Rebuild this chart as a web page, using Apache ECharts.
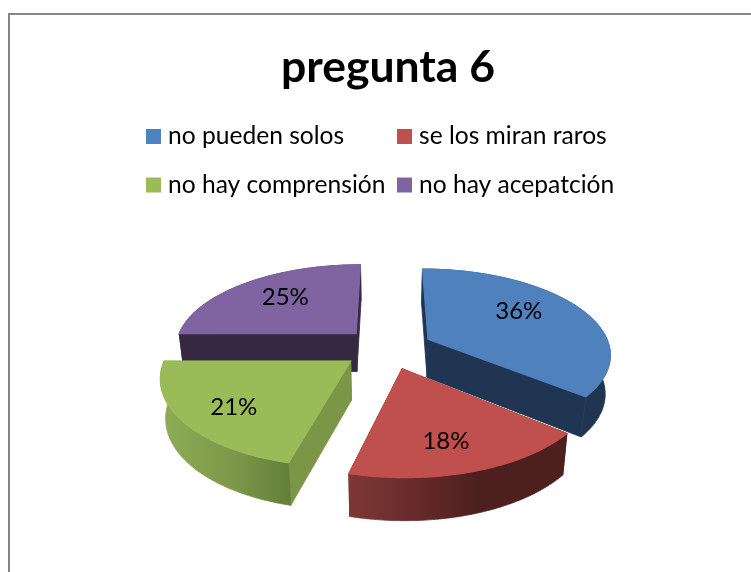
<!DOCTYPE html>
<html>
<head>
<meta charset="utf-8">
<style>html,body{margin:0;padding:0;background:#fff}#c{width:751px;height:572px}</style>
<script src="https://cdn.jsdelivr.net/npm/echarts@6/dist/echarts.min.js"></script>
</head>
<body>
<div id="c"></div>
<script>
const titleText = 'pregunta 6';
const categories = ['no pueden solos', 'se los miran raros', 'no hay comprensión', 'no hay acepatción'];
const values = [36, 18, 21, 25];

const topColors = ['#4F81BD', '#C0504D', '#9BBB59', '#8064A2'];
const cutColors = ['#1F3552', '#4D1F1E', '#7B9647', '#362840'];
const wallStops = [
  ['#1F3552', '#1F3552', '#1F3552'],
  ['#7F3836', '#4D1F1E', '#4D1F1E'],
  ['#8FAD57', '#7B9647', '#637E38'],
  ['#362840', '#362840', '#362840']
];
const labelReach = [0.62, 0.70, 0.74, 0.66];
const labelNudge = [[-4, -7], [-4, 5], [4, 3], [4, -2]];

// projection of the tilted pie plane
const CX = 387.5, CY = 348, AX = 182, BY = 84, PERSP = 0.16, EXPLODE = 0.25, DEPTH = 38.5;
const total = values.reduce((a, b) => a + b, 0);

function project(wx, wy) {
  const w = 1 - PERSP * wy;
  return [CX + AX * wx / w, CY + BY * wy / w];
}
function lower(p) {
  return [CX + (p[0] - CX) * 0.977, p[1] + DEPTH + 0.035 * (p[1] - CY)];
}
function sliceAngles(i) {
  let s = 0;
  for (let k = 0; k < i; k++) s += values[k];
  return [s / total * 2 * Math.PI, (s + values[i]) / total * 2 * Math.PI];
}
function apexOf(i) {
  const [a0, a1] = sliceAngles(i), m = (a0 + a1) / 2;
  return [EXPLODE * Math.sin(m), -EXPLODE * Math.cos(m)];
}
function renderItem(params) {
  const i = params.seriesIndex;
  const [a0, a1] = sliceAngles(i);
  const ap = apexOf(i);
  const arc = [];
  const n = 72;
  for (let k = 0; k <= n; k++) {
    const t = a0 + (a1 - a0) * k / n;
    arc.push(project(ap[0] + Math.sin(t), ap[1] - Math.cos(t)));
  }
  const apex = project(ap[0], ap[1]);
  const low = p => lower(p);
  const poly = (points, fill, z2, strokeWidth) => ({
    type: 'polygon', z2: z2,
    shape: { points: points },
    style: { fill: fill, stroke: fill, lineWidth: strokeWidth }
  });
  const m = (a0 + a1) / 2, r = labelReach[i];
  const lp = project(ap[0] + r * Math.sin(m), ap[1] - r * Math.cos(m));
  const grad = {
    type: 'linear', x: 0, y: 0, x2: 1, y2: 0,
    colorStops: [
      { offset: 0, color: wallStops[i][0] },
      { offset: 0.6, color: wallStops[i][1] },
      { offset: 1, color: wallStops[i][2] }
    ]
  };
  const lowArc = arc.map(low).reverse();
  return {
    type: 'group',
    children: [
      poly([apex, arc[0], low(arc[0]), low(apex)], cutColors[i], 1, 0.8),
      poly([apex, arc[n], low(arc[n]), low(apex)], cutColors[i], 1, 0.8),
      poly(arc.concat(lowArc), grad, 2, 0.8),
      poly([apex].concat(arc), topColors[i], 3, 1.2),
      {
        type: 'text', z2: 4,
        style: {
          x: lp[0] + labelNudge[i][0], y: lp[1] + labelNudge[i][1],
          text: Math.round(values[i] / total * 100) + '%',
          fill: '#000', fontFamily: 'Lato', fontSize: 24,
          align: 'center', verticalAlign: 'middle'
        }
      }
    ]
  };
}

// back slices are painted first
const depthRank = categories.map((_, i) => apexOf(i)[1]);
const order = depthRank.slice().sort((a, b) => a - b);

const legendText = { fontFamily: 'Lato', fontSize: 24.6, color: '#000', padding: [0, 0, 0, 2] };
const chart = echarts.init(document.getElementById('c'), null, { renderer: 'canvas' });
chart.setOption({
  animation: false,
  backgroundColor: '#fff',
  color: topColors,
  title: {
    text: titleText, left: 383, top: 40, textAlign: 'center',
    textStyle: { fontFamily: 'Lato', fontWeight: 'bold', fontSize: 44.5, color: '#000' }
  },
  legend: [
    { data: [categories[0], categories[2]], orient: 'vertical', left: 141, top: 119, itemWidth: 15, itemHeight: 15,
      itemGap: 23.5, icon: 'rect', itemStyle: { borderWidth: 0 }, textStyle: legendText },
    { data: [categories[1], categories[3]], orient: 'vertical', left: 392, top: 119, itemWidth: 15, itemHeight: 15,
      itemGap: 23.5, icon: 'rect', itemStyle: { borderWidth: 0 }, textStyle: legendText }
  ],
  graphic: [{
    type: 'rect', silent: true, z: -1,
    shape: { x: 9, y: 14, width: 760, height: 580 },
    style: { fill: '#fff', stroke: '#868686', lineWidth: 2 }
  }],
  series: categories.map((name, i) => ({
    type: 'custom', name: name, coordinateSystem: 'none',
    z: 2 + order.indexOf(depthRank[i]),
    itemStyle: { color: topColors[i] },
    data: [values[i]],
    renderItem: renderItem
  }))
});
</script>
</body>
</html>
